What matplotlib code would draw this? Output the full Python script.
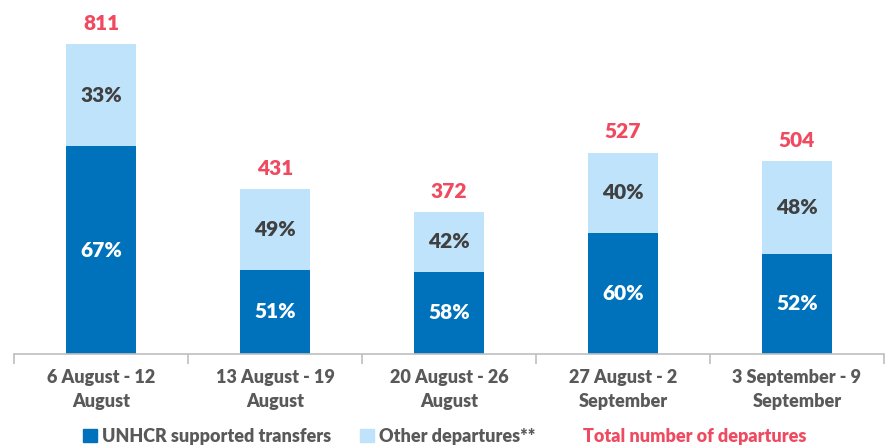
import matplotlib
matplotlib.use("Agg")
import matplotlib.pyplot as plt
from matplotlib.patches import Patch
from matplotlib.lines import Line2D

categories = ["6 August - 12\nAugust", "13 August - 19\nAugust", "20 August - 26\nAugust",
              "27 August - 2\nSeptember", "3 September - 9\nSeptember"]
totals = [811, 431, 372, 527, 504]
unhcr_pct = [67, 51, 58, 60, 52]
other_pct = [33, 49, 42, 40, 48]

dark = "#0072BC"
light = "#BFE3FA"
red = "#EF4A60"
gray = "#595959"

plt.rcParams['font.family'] = ['Lato', 'DejaVu Sans']

fig = plt.figure(figsize=(8.9, 4.48), dpi=100)
ax = fig.add_axes([14/890, 94/448, 870/890, 354/448])

x = list(range(len(categories)))
unhcr = [t * p / 100 for t, p in zip(totals, unhcr_pct)]
other = [t - u for t, u in zip(totals, unhcr)]

ax.bar(x, unhcr, width=0.40, color=dark, zorder=2)
ax.bar(x, other, bottom=unhcr, width=0.40, color=light, zorder=2)

W = "heavy"
for i in x:
    ax.text(i, unhcr[i] / 2, f"{unhcr_pct[i]}%", ha="center", va="center",
            color="white", fontsize=15, fontweight=W)
    ax.text(i, unhcr[i] + other[i] / 2, f"{other_pct[i]}%", ha="center", va="center",
            color="#404040", fontsize=15, fontweight=W)
    ax.annotate(f"{totals[i]}", (i, totals[i]), xytext=(0, 8), textcoords="offset points",
                ha="center", va="bottom", color=red, fontsize=15, fontweight=W)

ax.set_xlim(-0.5, len(categories) - 0.5)
ax.set_ylim(0, 811 * 354 / 310)
for s in ["top", "right", "left"]:
    ax.spines[s].set_visible(False)
ax.spines["bottom"].set_color("#BFBFBF")
ax.spines["bottom"].set_linewidth(1.2)
ax.set_yticks([])
ax.set_xticks([i - 0.5 for i in range(len(categories) + 1)])
ax.set_xticklabels([])
ax.set_xticks(x, minor=True)
ax.set_xticklabels(categories, minor=True, fontsize=13, fontweight=W, color=gray)
for t in ax.get_xticklabels(minor=True):
    t.set_linespacing(1.45)
ax.tick_params(axis="x", which="major", length=7, color="#BFBFBF", width=1.2)
ax.tick_params(axis="x", which="minor", length=0, pad=11)

handles = [Patch(color=dark), Patch(color=light), Line2D([], [], linestyle="none")]
labels = ["UNHCR supported transfers", "Other departures**", "Total number of departures"]
leg = fig.legend(handles, labels, loc="center", bbox_to_anchor=(0.5, 12/448),
                 ncol=3, frameon=False, handlelength=0.75, handleheight=0.75,
                 handletextpad=0.3, columnspacing=1.6, prop={'weight': W, 'size': 13})
for t, c in zip(leg.get_texts(), [gray, gray, red]):
    t.set_color(c)

fig.savefig("out.png", dpi=100)
